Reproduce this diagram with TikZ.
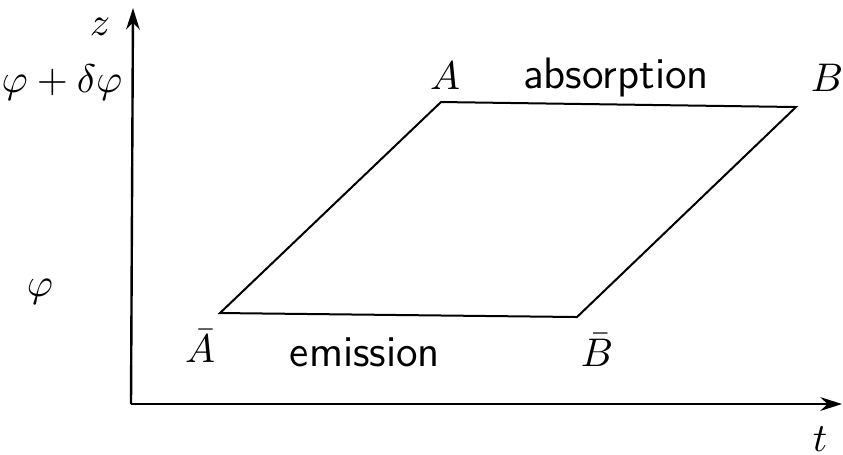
\documentclass[tikz,border=0pt]{standalone}
\usepackage{amsmath,amssymb}
\usepackage{tikz}
\usetikzlibrary{arrows.meta,positioning}

\begin{document}
\begin{tikzpicture}[
  x=0.25pt,y=-0.25pt,
  every node/.style={font=\normalsize,inner sep=1pt},
  axis/.style={-{Stealth[length=1.9mm,width=1.2mm]},line width=0.6pt},
  cycle/.style={line width=0.5pt},
  word/.style={font=\sffamily\fontsize{11}{13}\selectfont}
]
  \useasboundingbox (0,0) rectangle (843,454);

  % axes
  \coordinate (O) at (131,404);
  \coordinate (ztip) at (133,8);
  \coordinate (ttip) at (842,404);
  \draw[axis] (O) -- (ztip);
  \draw[axis] (O) -- (ttip);
  \node (zlab) at (100,27) {$z$};
  \node (tlab) at (820,439) {$t$};
  \node (phitop) at (62,82) {$\varphi+\delta\varphi$};
  \node (phibot) at (40,292) {$\varphi$};

  % cycle
  \coordinate (cA) at (441,102);
  \coordinate (cB) at (796,107);
  \coordinate (cBb) at (577,317);
  \coordinate (cAb) at (220,313);
  \draw[cycle] (cA) -- (cB) -- (cBb) -- (cAb) -- cycle;

  \node (labA) at (445,76) {$A$};
  \node (labB) at (827,78) {$B$};
  \node (labBb) at (597,350) {$\bar{B}$};
  \node (labAb) at (200,346) {$\bar{A}$};
  \node[word] (absorp) at (616,77) {absorption};
  \node[word] (emiss) at (365,352) {emission};
\end{tikzpicture}
\end{document}
